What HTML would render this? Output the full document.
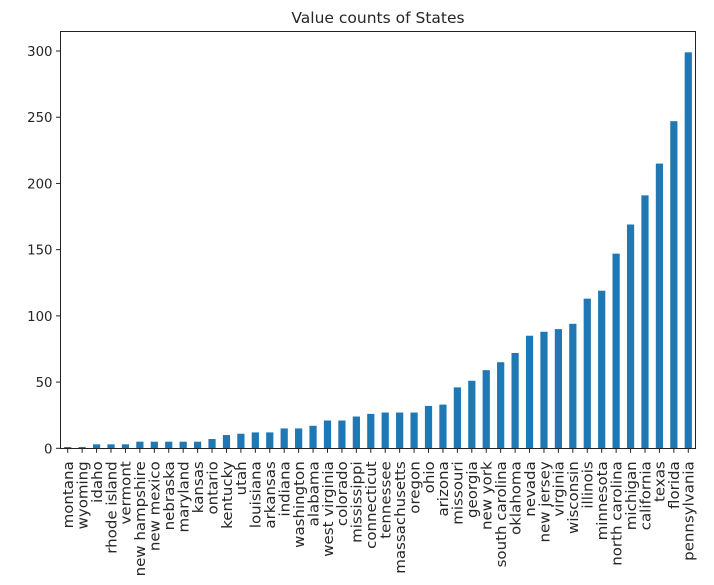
<!DOCTYPE html>
<html><head><meta charset="utf-8"><style>
body{margin:0;background:#fff;}
svg text{font-family:"DejaVu Sans","Liberation Sans",sans-serif;fill:#262626;}
</style></head><body>
<svg id="chart" width="714" height="580" xmlns="http://www.w3.org/2000/svg">
<text x="378" y="23" font-size="15.5" text-anchor="middle">Value counts of States</text>
<g id="bars"></g><g id="xaxis"></g><g id="yaxis"></g>
<rect x="60.5" y="31.5" width="635" height="417" fill="none" stroke="#222" stroke-width="1"/>
</svg>
<script>
const categories=["montana","wyoming","idaho","rhode island","vermont","new hampshire","new mexico","nebraska","maryland","kansas","ontario","kentucky","utah","louisiana","arkansas","indiana","washington","alabama","west virginia","colorado","mississippi","connecticut","tennessee","massachusetts","oregon","ohio","arizona","missouri","georgia","new york","south carolina","oklahoma","nevada","new jersey","virginia","wisconsin","illinois","minnesota","north carolina","michigan","california","texas","florida","pennsylvania"];
const values=[1,1,3,3,3,5,5,5,5,5,7,10,11,12,12,15,15,17,21,21,24,26,27,27,27,32,33,46,51,59,65,72,85,88,90,94,113,119,147,169,191,215,247,299];
const yTicks=[0,50,100,150,200,250,300];
const L=60.5,R=695.5,B=448.3,T=31.5;
const step=(R-L)/categories.length;
const x=i=>L+step*(i+0.5);
const y=v=>B-v*(448.3-51)/300;
const NS="http://www.w3.org/2000/svg";
const bars=document.getElementById('bars'),xa=document.getElementById('xaxis'),ya=document.getElementById('yaxis');
categories.forEach((c,i)=>{
  const r=document.createElementNS(NS,'rect');
  
  
  r.setAttribute('x',x(i)-step*0.25);r.setAttribute('width',step*0.5);
  r.setAttribute('y',y(values[i]));r.setAttribute('height',B-y(values[i]));
  r.setAttribute('fill','#1f77b4');bars.appendChild(r);
  const t=document.createElementNS(NS,'line');
  
  
  t.setAttribute('x1',x(i));t.setAttribute('x2',x(i));t.setAttribute('y1',B);t.setAttribute('y2',B+4.5);
  t.setAttribute('stroke','#222');xa.appendChild(t);
  const l=document.createElementNS(NS,'text');
  
  
  l.setAttribute('font-size','15');l.setAttribute('text-anchor','end');
  l.setAttribute('transform','translate('+(x(i)+5.3)+','+(B+13)+') rotate(-90) scale(1,0.92)');
  l.textContent=c;xa.appendChild(l);
});
yTicks.forEach(v=>{
  const t=document.createElementNS(NS,'line');
  
  
  t.setAttribute('x1',L-4.5);t.setAttribute('x2',L);t.setAttribute('y1',y(v));t.setAttribute('y2',y(v));
  t.setAttribute('stroke','#222');ya.appendChild(t);
  const l=document.createElementNS(NS,'text');
  
  
  l.setAttribute('font-size','13.3');l.setAttribute('text-anchor','end');
  l.setAttribute('x',L-8);l.setAttribute('y',y(v)+5);
  l.textContent=v;ya.appendChild(l);
});
</script>
</body></html>
